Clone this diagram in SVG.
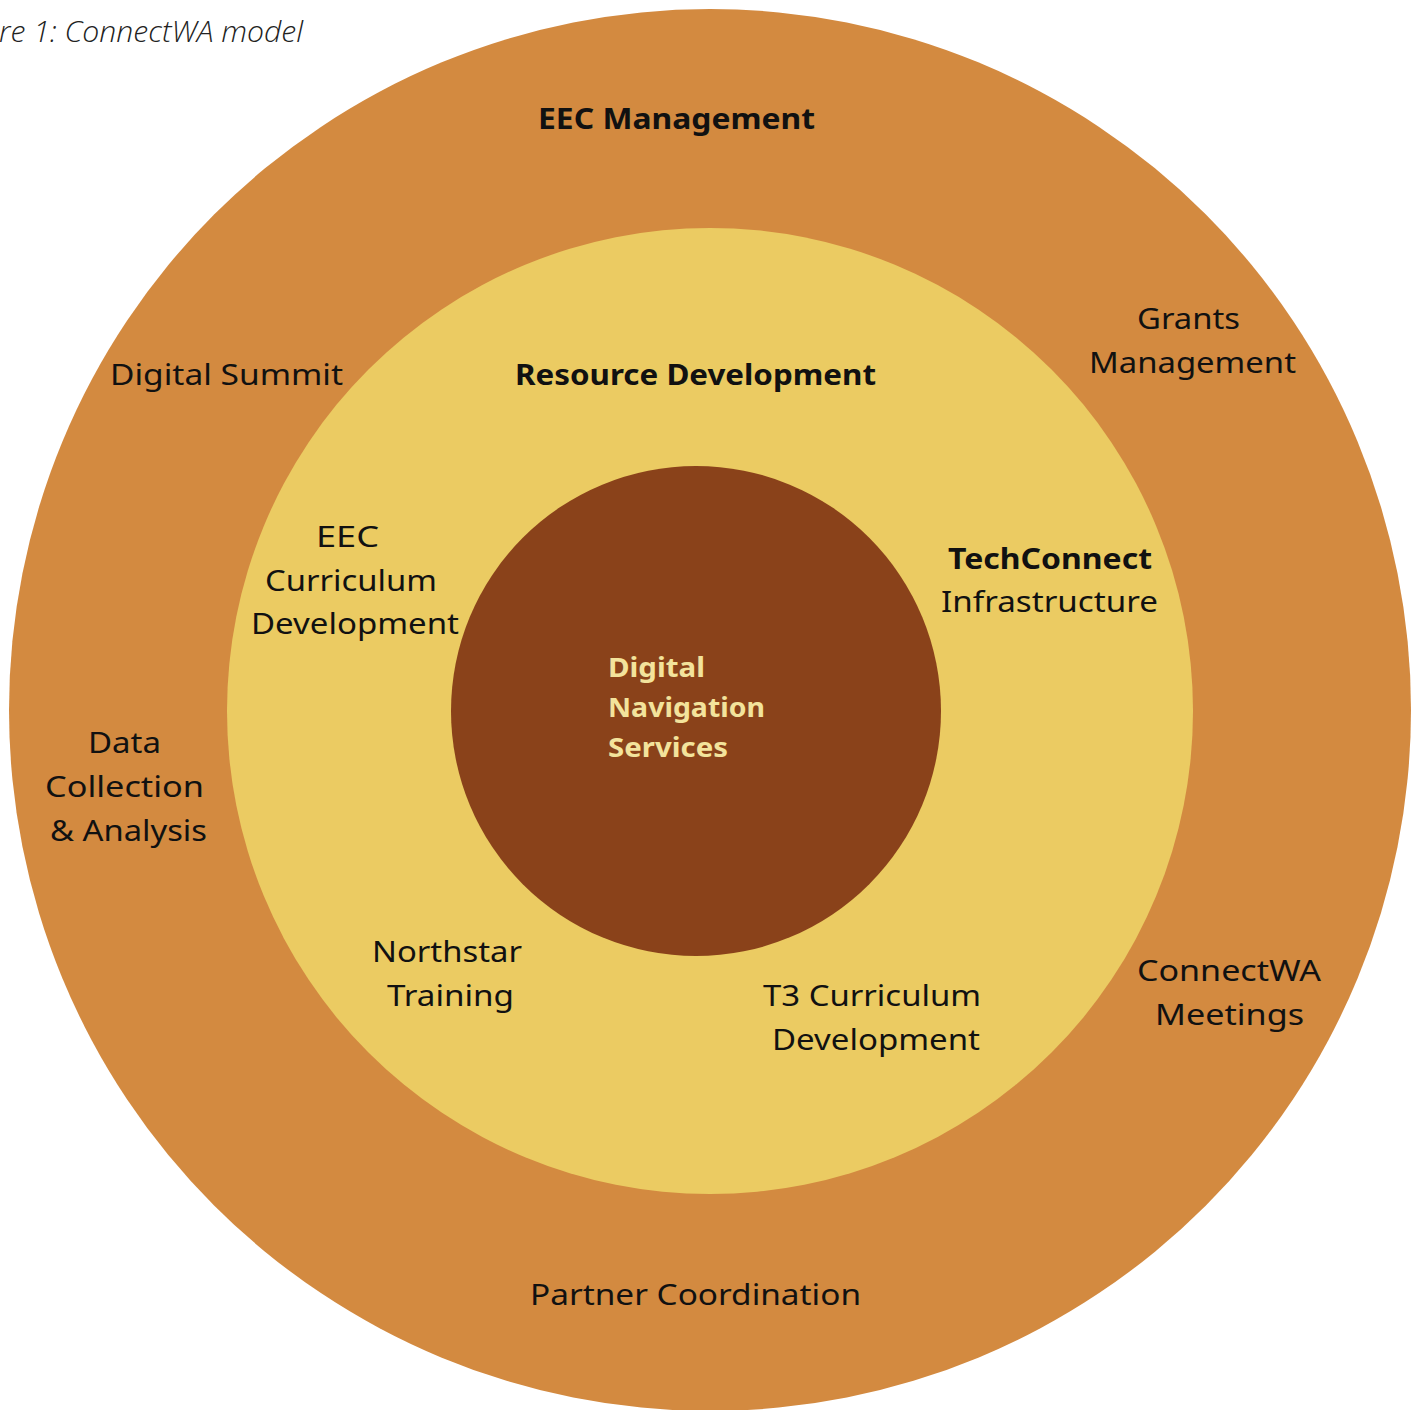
<svg xmlns="http://www.w3.org/2000/svg" width="1417" height="1410" viewBox="0 0 1417 1410">
<style>
text{font-family:"Noto Sans","Open Sans",sans-serif;font-size:29px;fill:#111}
.b{font-weight:700}
.cap{font-family:"Open Sans","Noto Sans",sans-serif;font-style:italic;font-weight:300;fill:#222}
.in{fill:#F3E39C;font-weight:700;font-size:27px}
</style>
<rect width="1417" height="1410" fill="#fff"/>
<g id="outer"><circle cx="710" cy="710" r="701" fill="#D38A40"/></g>
<g id="middle"><circle cx="710" cy="711" r="483" fill="#EBCB62"/></g>
<g id="inner"><circle cx="696" cy="711" r="245" fill="#8A421A"/></g>
<g id="connectors"></g>
<g id="caption"><text class="cap" x="-1" y="42" textLength="304" lengthAdjust="spacingAndGlyphs">re 1: ConnectWA model</text></g>
<g id="eec-management"><text class="b" x="538" y="129" textLength="277" lengthAdjust="spacingAndGlyphs">EEC Management</text></g>
<g id="digital-summit"><text x="110" y="385" textLength="233" lengthAdjust="spacingAndGlyphs">Digital Summit</text></g>
<g id="resource-development"><text class="b" x="515" y="385" textLength="361" lengthAdjust="spacingAndGlyphs">Resource Development</text></g>
<g id="grants-management">
<text x="1137" y="329" textLength="103" lengthAdjust="spacingAndGlyphs">Grants</text>
<text x="1089" y="373" textLength="207" lengthAdjust="spacingAndGlyphs">Management</text>
</g>
<g id="eec-curriculum">
<text x="316" y="547" textLength="63" lengthAdjust="spacingAndGlyphs">EEC</text>
<text x="265" y="591" textLength="172" lengthAdjust="spacingAndGlyphs">Curriculum</text>
<text x="251" y="634" textLength="208" lengthAdjust="spacingAndGlyphs">Development</text>
</g>
<g id="techconnect">
<text class="b" x="948" y="569" textLength="204" lengthAdjust="spacingAndGlyphs">TechConnect</text>
<text x="941" y="612" textLength="217" lengthAdjust="spacingAndGlyphs">Infrastructure</text>
</g>
<g id="digital-navigation">
<text class="in" x="608" y="677" textLength="97" lengthAdjust="spacingAndGlyphs">Digital</text>
<text class="in" x="608" y="717" textLength="157" lengthAdjust="spacingAndGlyphs">Navigation</text>
<text class="in" x="608" y="757" textLength="120" lengthAdjust="spacingAndGlyphs">Services</text>
</g>
<g id="data-collection">
<text x="88" y="753" textLength="73" lengthAdjust="spacingAndGlyphs">Data</text>
<text x="45" y="797" textLength="159" lengthAdjust="spacingAndGlyphs">Collection</text>
<text x="50" y="841" textLength="157" lengthAdjust="spacingAndGlyphs">&amp; Analysis</text>
</g>
<g id="northstar">
<text x="372" y="962" textLength="150" lengthAdjust="spacingAndGlyphs">Northstar</text>
<text x="387" y="1006" textLength="127" lengthAdjust="spacingAndGlyphs">Training</text>
</g>
<g id="t3-curriculum">
<text x="763" y="1006" textLength="218" lengthAdjust="spacingAndGlyphs">T3 Curriculum</text>
<text x="772" y="1050" textLength="208" lengthAdjust="spacingAndGlyphs">Development</text>
</g>
<g id="connectwa-meetings">
<text x="1137" y="981" textLength="184" lengthAdjust="spacingAndGlyphs">ConnectWA</text>
<text x="1155" y="1025" textLength="149" lengthAdjust="spacingAndGlyphs">Meetings</text>
</g>
<g id="partner-coordination"><text x="530" y="1305" textLength="331" lengthAdjust="spacingAndGlyphs">Partner Coordination</text></g>
</svg>
